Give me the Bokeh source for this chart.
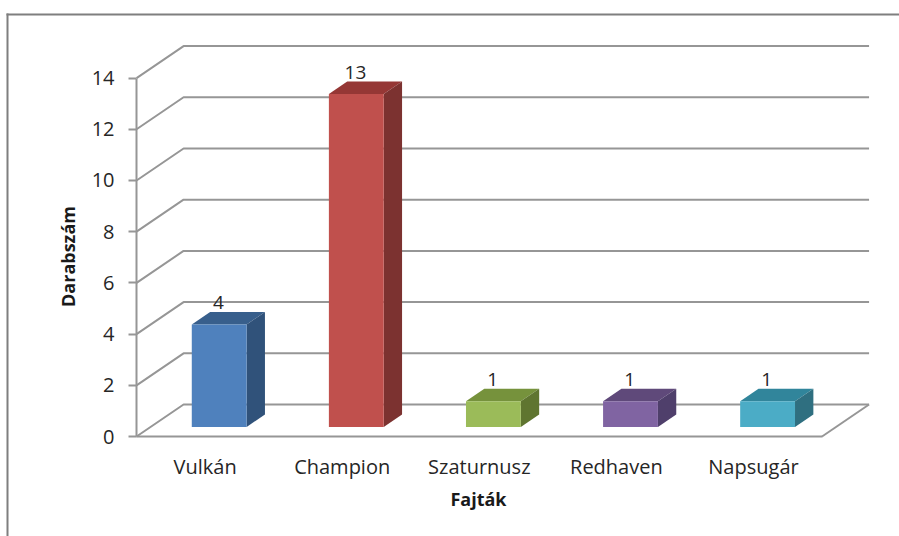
from bokeh.embed import file_html
from bokeh.resources import INLINE
from bokeh.plotting import figure
from bokeh.core.properties import value
from bokeh.models import BoxAnnotation, FixedTicker, Label, LinearAxis, ColumnDataSource
import math

# Data
categories = ["Vulkán", "Champion", "Szaturnusz", "Redhaven", "Napsugár"]
counts = [4, 13, 1, 1, 1]
y_ticks = [0, 2, 4, 6, 8, 10, 12, 14]
front_colors = ["#4f81bd", "#c0504d", "#9bbb59", "#8064a2", "#4bacc6"]
side_colors = ["#30527a", "#7c3230", "#5f7530", "#4f3f6b", "#2f6f80"]
top_colors = ["#385f8c", "#953735", "#76923c", "#5f497a", "#31859b"]

# Depth of the pseudo-3D box, in axis units
DX, DY = 0.343, 1.25
D_FRONT, D_BACK = 0.30, 0.69
HALF = 0.2
X0, X1 = -0.5, 4.5
FONT = "Open Sans"
TEXT = "#262626"
GRID = "#969696"

def px(x, d):
    return x + d * DX

def py(v, d):
    return v + d * DY

p = figure(width=899, height=536, output_backend="svg", toolbar_location=None,
           x_range=(-1.4923, 5.065), y_range=(-3.906, 17.031),
           x_axis_location=None, y_axis_location=None,
           min_border=0, background_fill_color="white", border_fill_color="white")
p.outline_line_color = None
p.grid.visible = False

# walls
p.multi_line([[X0, px(X0, 1), px(X1, 1)] for v in y_ticks],
             [[v, py(v, 1), py(v, 1)] for v in y_ticks],
             line_color=GRID, line_width=2)
p.line([X1, px(X1, 1)], [0, py(0, 1)], line_color=GRID, line_width=2)

# bars
p.patches([[px(i - HALF, D_FRONT), px(i - HALF, D_BACK), px(i + HALF, D_BACK), px(i + HALF, D_FRONT)] for i in range(5)],
          [[py(v, D_FRONT), py(v, D_BACK), py(v, D_BACK), py(v, D_FRONT)] for v in counts],
          fill_color=top_colors, line_color=None)
p.patches([[px(i + HALF, D_FRONT), px(i + HALF, D_BACK), px(i + HALF, D_BACK), px(i + HALF, D_FRONT)] for i in range(5)],
          [[py(0, D_FRONT), py(0, D_BACK), py(v, D_BACK), py(v, D_FRONT)] for v in counts],
          fill_color=side_colors, line_color=None)
p.quad(left=[px(i - HALF, D_FRONT) for i in range(5)], right=[px(i + HALF, D_FRONT) for i in range(5)],
       bottom=[py(0, D_FRONT)] * 5, top=[py(v, D_FRONT) for v in counts],
       fill_color=front_colors, line_color=None)

# value labels
src = ColumnDataSource(dict(x=[px(i, D_FRONT) - 0.006 for i in range(5)],
                            y=[py(v, D_BACK) for v in counts],
                            t=[str(v) for v in counts]))
p.text("x", "y", text="t", source=src, text_align="center", text_baseline="bottom", y_offset=-3,
       text_font=value(FONT), text_font_size="19px", text_color=TEXT)

# axes, pinned to the front plane
ya = LinearAxis(fixed_location=X0, ticker=FixedTicker(ticks=y_ticks), bounds=(0, 14))
ya.major_tick_in = 0
ya.major_tick_out = 8
ya.minor_tick_line_color = None
ya.major_tick_line_color = GRID
ya.major_tick_line_width = 2
ya.axis_line_color = GRID
ya.axis_line_width = 2
ya.major_label_text_font = FONT
ya.major_label_text_font_size = "20px"
ya.major_label_text_color = TEXT
ya.major_label_standoff = 14
p.add_layout(ya, "left")

xa = LinearAxis(fixed_location=0, ticker=FixedTicker(ticks=list(range(5))), bounds=(X0, X1))
xa.major_label_overrides = {i: c for i, c in enumerate(categories)}
xa.major_tick_line_color = None
xa.minor_tick_line_color = None
xa.axis_line_color = GRID
xa.axis_line_width = 2
xa.major_label_text_font = FONT
xa.major_label_text_font_size = "20px"
xa.major_label_text_color = TEXT
xa.major_label_standoff = 10
p.add_layout(xa, "below")

# axis titles (centred on the front plane)
p.add_layout(Label(x=1.994, y=-2.43, text="Fajták", text_align="center", text_baseline="middle",
                   text_font=FONT, text_font_size="18px", text_font_style="bold", text_color="#1a1a1a"))
p.add_layout(Label(x=-1.0, y=7.03, text="Darabszám", angle=math.pi / 2, text_align="center", text_baseline="middle",
                   text_font=FONT, text_font_size="18px", text_font_style="bold", text_color="#1a1a1a"))

# chart-area frame (top and left edges)
frame = "#7f7f7f"
p.add_layout(BoxAnnotation(left=6, right=899, top=13, bottom=15, left_units="canvas", right_units="canvas",
                           top_units="canvas", bottom_units="canvas", fill_color=frame, fill_alpha=1,
                           line_color=None, level="overlay"))
p.add_layout(BoxAnnotation(left=6, right=8, top=13, bottom=536, left_units="canvas", right_units="canvas",
                           top_units="canvas", bottom_units="canvas", fill_color=frame, fill_alpha=1,
                           line_color=None, level="overlay"))

open("out.html", "w").write(file_html(p, INLINE))
